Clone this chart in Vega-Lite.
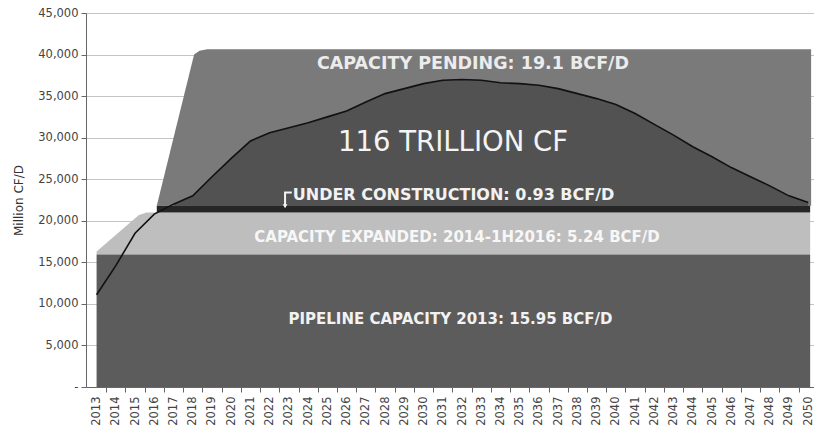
{
  "$schema": "https://vega.github.io/schema/vega-lite/v6.json",
  "width": 728,
  "height": 374,
  "autosize": {"type": "none"},
  "padding": {"left": 86, "top": 13, "right": 0, "bottom": 46},
  "background": "white",
  "config": {
    "view": {"stroke": null},
    "font": "DejaVu Sans"
  },
  "datasets": {
    "pending": [
      {"year": 2016.13, "value": 21800},
      {"year": 2018.07, "value": 40000},
      {"year": 2018.35, "value": 40450},
      {"year": 2018.75, "value": 40650},
      {"year": 2050.15, "value": 40650}
    ],
    "expanded": [
      {"year": 2013, "value": 16300},
      {"year": 2015.2, "value": 20700},
      {"year": 2015.6, "value": 21000},
      {"year": 2050.1, "value": 21000}
    ],
    "uc": [
      {"year": 2016.13, "value": 21800},
      {"year": 2050.1, "value": 21800}
    ],
    "base": [
      {"year": 2013, "value": 15950},
      {"year": 2050.1, "value": 15950}
    ],
    "production": [
      {"year": 2013, "value": 11100}, {"year": 2014, "value": 14600}, {"year": 2015, "value": 18500},
      {"year": 2016, "value": 20800}, {"year": 2017, "value": 22000}, {"year": 2018, "value": 23000},
      {"year": 2019, "value": 25300}, {"year": 2020, "value": 27500}, {"year": 2021, "value": 29600},
      {"year": 2022, "value": 30600}, {"year": 2023, "value": 31200}, {"year": 2024, "value": 31800},
      {"year": 2025, "value": 32500}, {"year": 2026, "value": 33200}, {"year": 2027, "value": 34300},
      {"year": 2028, "value": 35300}, {"year": 2029, "value": 35900}, {"year": 2030, "value": 36500},
      {"year": 2031, "value": 36900}, {"year": 2032, "value": 37000}, {"year": 2033, "value": 36900},
      {"year": 2034, "value": 36600}, {"year": 2035, "value": 36500}, {"year": 2036, "value": 36300},
      {"year": 2037, "value": 35900}, {"year": 2038, "value": 35300}, {"year": 2039, "value": 34700},
      {"year": 2040, "value": 34000}, {"year": 2041, "value": 32900}, {"year": 2042, "value": 31600},
      {"year": 2043, "value": 30300}, {"year": 2044, "value": 28900}, {"year": 2045, "value": 27700},
      {"year": 2046, "value": 26400}, {"year": 2047, "value": 25300}, {"year": 2048, "value": 24200},
      {"year": 2049, "value": 23000}, {"year": 2050, "value": 22200}
    ]
  },
  "layer": [
    {
      "data": {"name": "pending"},
      "mark": {"type": "area", "color": "#7a7a7a", "interpolate": "linear"},
      "encoding": {
        "x": {
          "field": "year", "type": "quantitative",
          "scale": {"domain": [2012.45, 2050.3], "nice": false, "zero": false},
          "axis": {
            "title": null,
            "values": [2013,2014,2015,2016,2017,2018,2019,2020,2021,2022,2023,2024,2025,2026,2027,2028,2029,2030,2031,2032,2033,2034,2035,2036,2037,2038,2039,2040,2041,2042,2043,2044,2045,2046,2047,2048,2049,2050],
            "tickCount": 60,
            "format": "d",
            "labelAngle": -90,
            "labelAlign": "right",
            "labelBaseline": "middle",
            "labelFontSize": 11.5,
            "labelColor": "#444",
            "labelPadding": 4,
            "labelOffset": -9.6,
            "tickOffset": 9.6,
            "tickSize": 5,
            "tickColor": "#666",
            "domainColor": "#666",
            "grid": false,
            "labelOverlap": false,
            "labelFlush": false
          }
        },
        "y": {
          "field": "value", "type": "quantitative",
          "scale": {"domain": [0, 45000], "nice": false},
          "axis": {
            "title": "Million CF/D",
            "titleFontSize": 12,
            "titleFontWeight": "normal",
            "titleColor": "#333",
            "titlePadding": 12,
            "values": [0,5000,10000,15000,20000,25000,30000,35000,40000,45000],
            "tickCount": 20,
            "labelExpr": "datum.value == 0 ? '-' : format(datum.value, ',')",
            "labelFontSize": 11.5,
            "labelColor": "#444",
            "labelPadding": 3,
            "tickSize": 5,
            "tickColor": "#666",
            "domainColor": "#666",
            "grid": true,
            "gridColor": "#c4c4c4",
            "gridWidth": 1
          }
        },
        "y2": {"datum": 21800}
      }
    },
    {
      "data": {"name": "production"},
      "transform": [{"filter": "datum.year >= 2017"}],
      "mark": {"type": "area", "color": "#525252", "interpolate": "linear"},
      "encoding": {
        "x": {"field": "year", "type": "quantitative"},
        "y": {"field": "value", "type": "quantitative"},
        "y2": {"datum": 21800}
      }
    },
    {
      "data": {"name": "expanded"},
      "mark": {"type": "area", "color": "#bebebe", "interpolate": "linear"},
      "encoding": {
        "x": {"field": "year", "type": "quantitative"},
        "y": {"field": "value", "type": "quantitative"},
        "y2": {"datum": 15950}
      }
    },
    {
      "data": {"name": "uc"},
      "mark": {"type": "area", "color": "#262626", "interpolate": "linear"},
      "encoding": {
        "x": {"field": "year", "type": "quantitative"},
        "y": {"field": "value", "type": "quantitative"},
        "y2": {"datum": 21000}
      }
    },
    {
      "data": {"name": "base"},
      "mark": {"type": "area", "color": "#5c5c5c", "interpolate": "linear"},
      "encoding": {
        "x": {"field": "year", "type": "quantitative"},
        "y": {"field": "value", "type": "quantitative"},
        "y2": {"datum": 0}
      }
    },
    {
      "data": {"name": "production"},
      "mark": {"type": "line", "color": "#111111", "strokeWidth": 1.6, "interpolate": "linear"},
      "encoding": {
        "x": {"field": "year", "type": "quantitative"},
        "y": {"field": "value", "type": "quantitative"}
      }
    },
    {
      "data": {"values": [{}]},
      "mark": {"type": "text", "text": "CAPACITY PENDING: 19.1 BCF/D", "fontSize": 17.5, "fontWeight": "bold", "color": "#ececec", "align": "center", "baseline": "middle"},
      "encoding": {"x": {"datum": 2032.57}, "y": {"datum": 38900}}
    },
    {
      "data": {"values": [{}]},
      "mark": {"type": "text", "text": "116 TRILLION CF", "fontSize": 27.5, "fontWeight": "normal", "color": "#f4f4f4", "align": "center", "baseline": "middle"},
      "encoding": {"x": {"datum": 2031.53}, "y": {"datum": 29400}}
    },
    {
      "data": {"values": [{}]},
      "mark": {"type": "text", "text": "UNDER CONSTRUCTION:  0.93 BCF/D", "fontSize": 16, "fontWeight": "bold", "color": "#f2f2f2", "align": "left", "baseline": "middle"},
      "encoding": {"x": {"datum": 2023.2}, "y": {"datum": 23150}}
    },
    {
      "data": {"values": [{}]},
      "mark": {"type": "text", "text": "CAPACITY EXPANDED: 2014-1H2016: 5.24 BCF/D", "fontSize": 15, "fontWeight": "bold", "color": "#f7f7f7", "align": "center", "baseline": "middle"},
      "encoding": {"x": {"datum": 2031.74}, "y": {"datum": 18000}}
    },
    {
      "data": {"values": [{}]},
      "mark": {"type": "text", "text": "PIPELINE CAPACITY 2013: 15.95 BCF/D", "fontSize": 15, "fontWeight": "bold", "color": "#f2f2f2", "align": "center", "baseline": "middle"},
      "encoding": {"x": {"datum": 2031.4}, "y": {"datum": 8150}}
    },
    {
      "data": {"values": [{}]},
      "mark": {"type": "rule", "color": "#f4f4f4", "strokeWidth": 2},
      "encoding": {"x": {"datum": 2022.8}, "y": {"datum": 23400}, "y2": {"datum": 21750}}
    },
    {
      "data": {"values": [{}]},
      "mark": {"type": "rule", "color": "#f4f4f4", "strokeWidth": 2},
      "encoding": {"x": {"datum": 2022.75}, "x2": {"datum": 2023.15}, "y": {"datum": 23400}}
    },
    {
      "data": {"values": [{}]},
      "mark": {"type": "point", "shape": "triangle-down", "filled": true, "color": "#f4f4f4", "size": 22, "opacity": 1},
      "encoding": {"x": {"datum": 2022.8}, "y": {"datum": 21750}}
    }
  ]
}
